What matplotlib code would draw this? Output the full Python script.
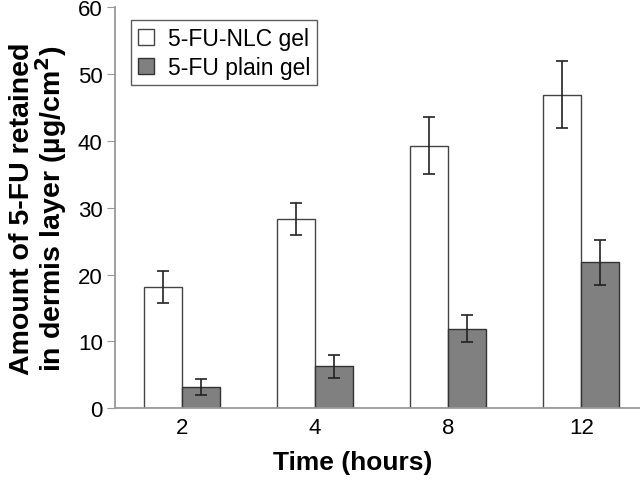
import numpy as np
import matplotlib.pyplot as plt

plt.rcParams['font.family'] = ['Liberation Sans', 'DejaVu Sans']

hours = ['2', '4', '8', '12']
nlc_mean = [18.2, 28.3, 39.3, 46.9]
nlc_err = [2.4, 2.35, 4.2, 5.0]
plain_mean = [3.2, 6.3, 11.9, 21.85]
plain_err = [1.2, 1.75, 2.0, 3.35]

fig = plt.figure(figsize=(6.4, 4.81), dpi=100)
ax = fig.add_axes([0.18, 0.149, 0.82, 0.834])

x = np.arange(len(hours))
w = 0.286
ekw = dict(ecolor='#222222', elinewidth=1.2, capsize=4, capthick=1.2)
ax.bar(x - w / 2, nlc_mean, w, yerr=nlc_err, color='white', edgecolor='#444444',
       linewidth=1.0, error_kw=ekw, label='5-FU-NLC gel')
ax.bar(x + w / 2, plain_mean, w, yerr=plain_err, color='#808080', edgecolor='#333333',
       linewidth=1.0, error_kw=ekw, label='5-FU plain gel')

ax.set_xlim(-0.5, 3.44)
ax.set_ylim(0, 60)
ax.set_yticks(range(0, 61, 10))
ax.set_xticks(x)
ax.set_xticklabels(hours)
ax.tick_params(axis='x', length=0, labelsize=16, pad=6)
ax.tick_params(axis='y', length=6, color='#999999', labelsize=16, pad=3)

for s in ['top', 'right']:
    ax.spines[s].set_visible(False)
for s in ['left', 'bottom']:
    ax.spines[s].set_color('#999999')
    ax.spines[s].set_linewidth(1.3)

ax.set_xlabel('Time (hours)', fontsize=19, fontweight='bold', labelpad=9, x=0.453)
ax.set_ylabel('Amount of 5-FU retained\nin dermis layer (µg/cm$^\\mathbf{2}$)',
              fontsize=20.5, fontweight='bold', labelpad=6, linespacing=0.95)

leg = ax.legend(loc='upper left', bbox_to_anchor=(0.03, 0.968), fontsize=16.5,
                frameon=True, fancybox=False, edgecolor='#333333',
                handlelength=0.7, handleheight=0.7, handletextpad=0.6,
                borderpad=0.3, labelspacing=0.25, borderaxespad=0)
leg.get_frame().set_linewidth(1.0)

plt.savefig('out.png', dpi=100)
